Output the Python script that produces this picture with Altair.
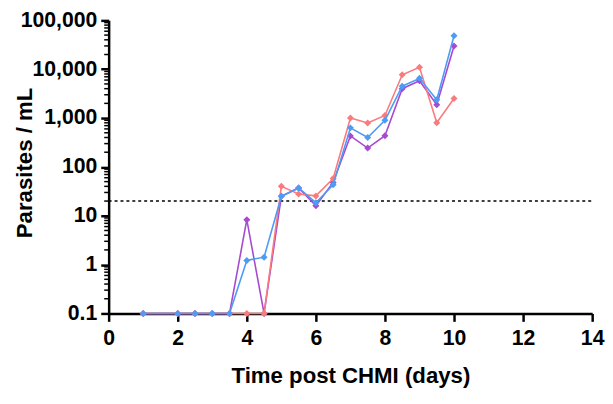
import altair as alt
import pandas as pd

days = [1, 2, 2.5, 3, 3.5, 4, 4.5, 5, 5.5, 6, 6.5, 7, 7.5, 8, 8.5, 9, 9.5, 10]
purple = [0.1, 0.1, 0.1, 0.1, 0.1, 8.3, 0.1, 25, 37, 16, 48, 430, 243, 436, 4000, 5800, 1880, 30000]
red = [0.1, 0.1, 0.1, 0.1, 0.1, 0.1, 0.1, 40, 28, 25.5, 58, 1000, 794, 1130, 7700, 11000, 806, 2512]
blue = [0.1, 0.1, 0.1, 0.1, 0.1, 1.22, 1.42, 25, 37, 18.5, 43, 630, 400, 900, 4500, 6500, 2370, 48500]

threshold = [20]
y_major = [0.1, 1, 10, 100, 1000, 10000, 100000]
x_ticks = [0, 2, 4, 6, 8, 10, 12, 14]
y_minor = [m * 10 ** k for k in range(-1, 5) for m in range(2, 10)]

FONT = "Liberation Sans"

xscale = alt.Scale(domain=[0, 14], nice=False)
yscale = alt.Scale(type="log", domain=[0.1, 100000], nice=False)

xaxis = alt.Axis(values=x_ticks, title="Time post CHMI (days)", labelFlush=False,
                 labelPadding=6, titleY=70, titleBaseline="alphabetic")
yaxis = alt.Axis(values=y_major, title="Parasites / mL", labelFlush=False,
                 labelExpr="datum.value < 1 ? '0.1' : format(datum.value, ',')",
                 labelPadding=4, titleX=-78, titleY=144, titleBaseline="alphabetic")


def series(vals, color):
    df = pd.DataFrame({"day": days, "v": vals})
    base = alt.Chart(df).encode(
        x=alt.X("day:Q", scale=xscale, axis=xaxis),
        y=alt.Y("v:Q", scale=yscale, axis=yaxis),
    )
    line = base.mark_line(color=color, strokeWidth=1.6)
    pts = base.mark_point(shape="diamond", filled=True, size=50, color=color, opacity=1)
    return line + pts


thr = alt.Chart(pd.DataFrame({"t": threshold})).mark_rule(
    color="black", strokeWidth=1.5, strokeDash=[3, 3]
).encode(y=alt.Y("t:Q", scale=yscale, axis=yaxis), x=alt.value(0), x2=alt.value(490))

minor = alt.Chart(pd.DataFrame({"m": y_minor})).mark_rule(
    color="black", strokeWidth=1.5
).encode(y=alt.Y("m:Q", scale=yscale, axis=yaxis), x=alt.value(-4.5), x2=alt.value(0))

chart = alt.layer(
    thr,
    minor,
    series(purple, "#A64ACF"),
    series(red, "#F97B7D"),
    series(blue, "#4C9CF5"),
).properties(
    width=490, height=297,
    autosize=alt.AutoSizeParams(type="none"),
    padding={"left": 102, "top": 10, "right": 13, "bottom": 73},
).configure_view(stroke=None).configure_axis(
    grid=False,
    domainColor="black",
    domainWidth=2.5,
    tickColor="black",
    tickWidth=2.5,
    tickSize=8,
    labelFont=FONT,
    labelFontSize=21.5,
    labelFontWeight="bold",
    labelColor="black",
    titleFont=FONT,
    titleFontSize=22.5,
    titleFontWeight="bold",
    titleColor="black",
)

chart.save("out.html", embed_options={"renderer": "svg", "actions": False})
